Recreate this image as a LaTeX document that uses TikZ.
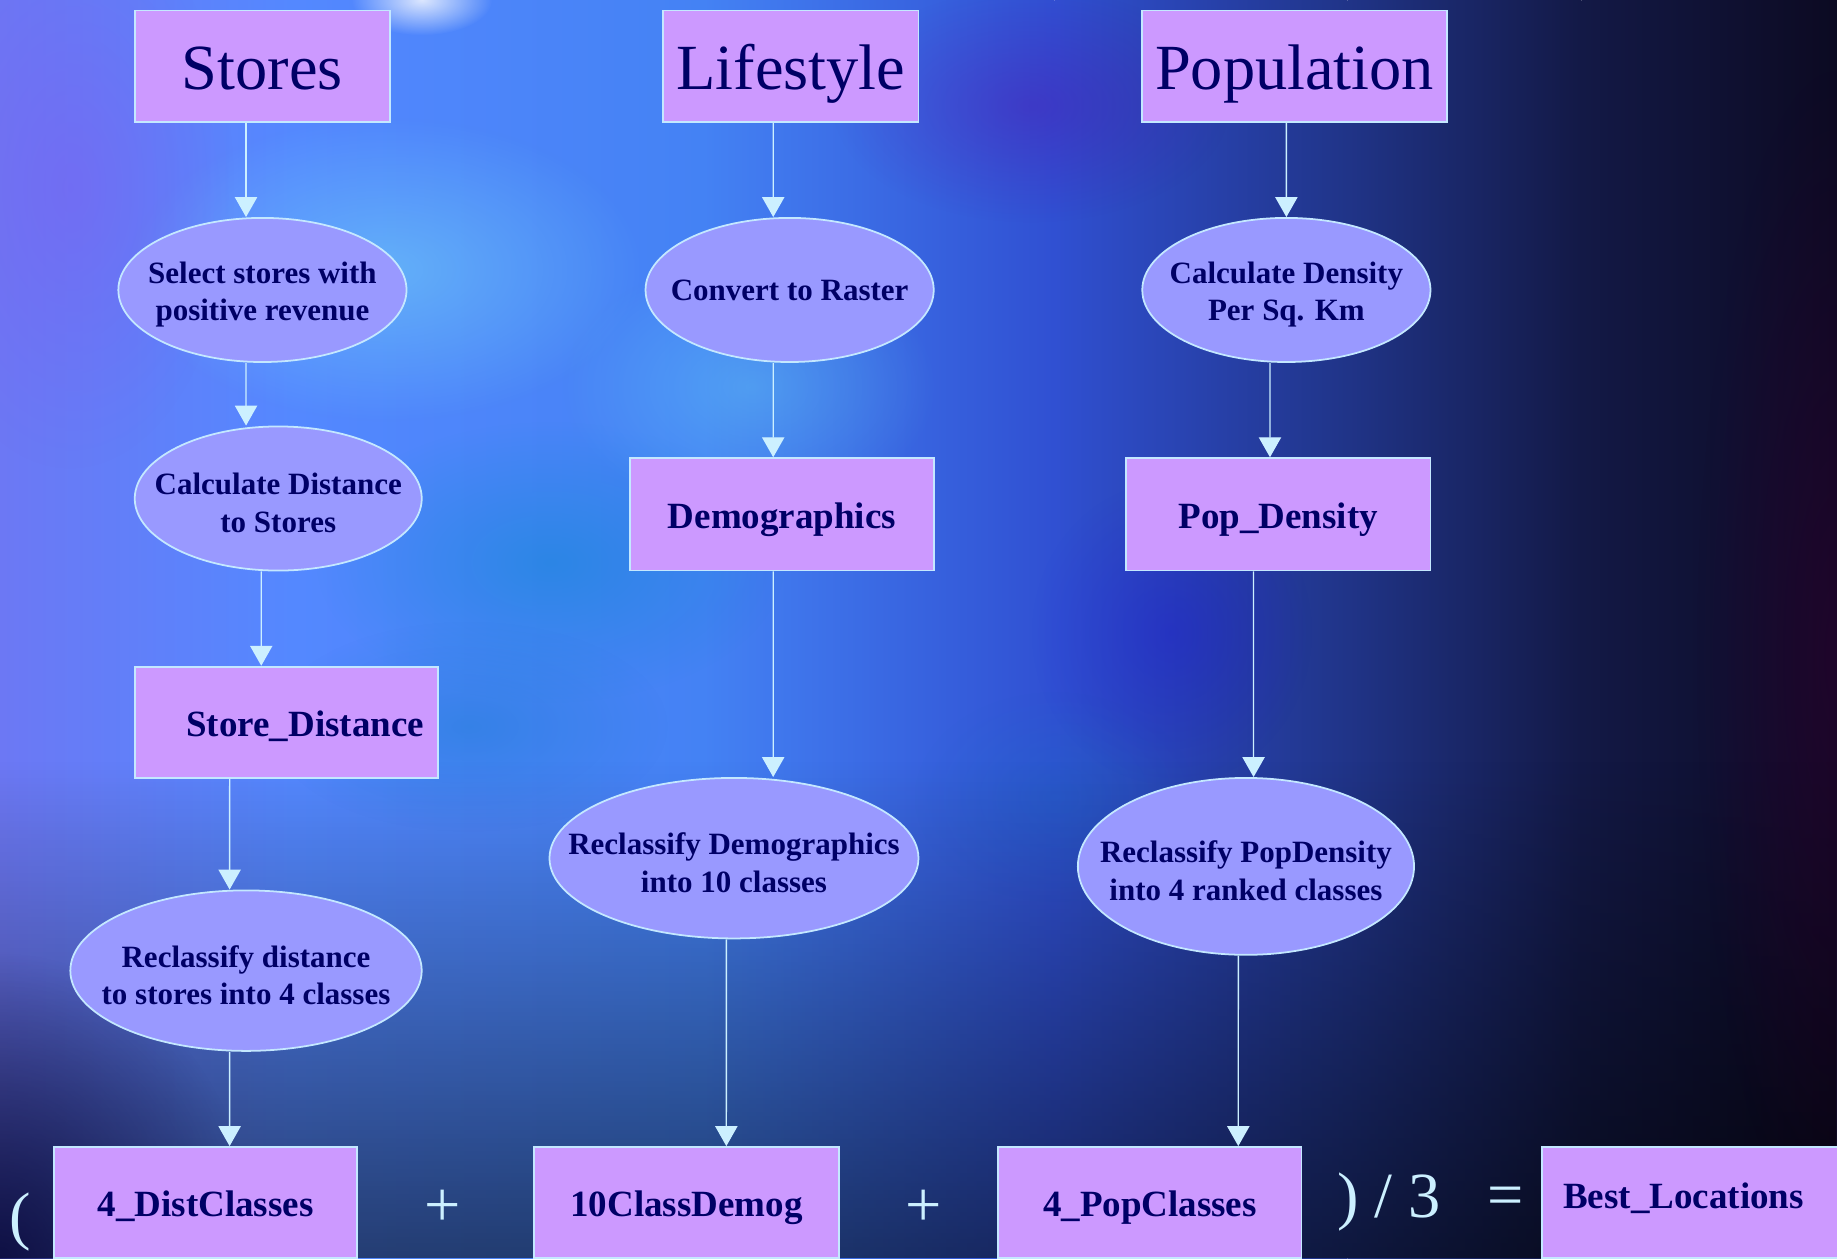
\documentclass[tikz,border=0pt]{standalone}
\usepackage{fontspec}
\setmainfont{Liberation Serif}
\usetikzlibrary{arrows.meta,fadings,shapes.geometric}
\definecolor{boxfill}{HTML}{CC99FF}
\definecolor{ellfill}{HTML}{9999FF}
\definecolor{edge}{HTML}{C4E8FF}
\definecolor{ink}{HTML}{000066}
\definecolor{arrowc}{HTML}{CCF0FF}
\definecolor{bgA}{HTML}{6C78F4}
\definecolor{bgB}{HTML}{5488FF}
\definecolor{bgC}{HTML}{4482F4}
\definecolor{bgD}{HTML}{3050D2}
\definecolor{bgE}{HTML}{203488}
\definecolor{bgF}{HTML}{131946}
\definecolor{bgG}{HTML}{0C0A22}
\definecolor{violetglow}{HTML}{7A62F0}
\tikzfading[name=glowfade, inner color=transparent!0, outer color=transparent!100]
\tikzfading[name=downfade, top color=transparent!100, bottom color=transparent!0]
\tikzset{
  box/.style={draw=edge, line width=0.88pt, fill=boxfill, text=ink, inner sep=0pt},
  big/.style={box, font=\fontsize{32.2pt}{38pt}\selectfont, text height=23.8pt, text depth=0pt},
  lbl/.style={box, font=\bfseries\fontsize{18.5pt}{22pt}\selectfont, text height=14.1pt, text depth=0pt},
  ell/.style={ellipse, draw=edge, line width=0.88pt, fill=ellfill, inner sep=0pt},
  etxt/.style={text=ink, align=center, font=\bfseries\fontsize{15.5pt}{18.75pt}\selectfont, inner sep=0pt},
  etxtb/.style={etxt, yshift=-2.3pt},
  arr/.style={draw=arrowc, line width=0.65pt, -{Triangle[length=9.96pt, width=11.13pt, fill=arrowc]}},
  op/.style={text=arrowc, font=\fontsize{32.2pt}{38pt}\selectfont, inner sep=0pt, anchor=base},
  glow/.style={path fading=glowfade}
}
\begin{document}
\begin{tikzpicture}[x=0.5858pt, y=-0.5858pt]
\useasboundingbox (0,0) rectangle (1568,1074);
% background
\shade[left color=bgA, right color=bgB] (0,0) rectangle (250,1074);
\shade[left color=bgB, right color=bgC] (250,0) rectangle (600,1074);
\shade[left color=bgC, right color=bgD] (600,0) rectangle (900,1074);
\shade[left color=bgD, right color=bgE] (900,0) rectangle (1150,1074);
\shade[left color=bgE, right color=bgF] (1150,0) rectangle (1350,1074);
\shade[left color=bgF, right color=bgG] (1350,0) rectangle (1568,1074);
\fill[glow, color=cyan!55!white, opacity=0.55] (330,230) ellipse (220 and 130);
\fill[glow, color=cyan!70!blue, opacity=0.5] (470,480) ellipse (200 and 120);
\fill[glow, color=cyan!60!white, opacity=0.4] (640,330) ellipse (160 and 110);
\fill[glow, color=cyan!60!blue, opacity=0.4] (400,620) ellipse (170 and 90);
\fill[glow, color=cyan!50!blue, opacity=0.3] (900,680) ellipse (120 and 90);
\fill[glow, color=white, opacity=0.8] (360,0) ellipse (60 and 30);
\fill[glow, color=violetglow, opacity=0.55] (60,160) ellipse (140 and 240);
\fill[glow, color=violet!70!blue, opacity=0.3] (880,90) ellipse (170 and 100);
\fill[glow, color=blue!80!violet, opacity=0.25] (1000,540) ellipse (120 and 130);
\fill[black, path fading=downfade, opacity=0.55] (0,650) rectangle (1568,1074);
\fill[glow, color=black!80!blue, opacity=0.7] (0,1074) ellipse (220 and 260);
\fill[glow, color=black!60!violet, opacity=0.5] (1568,560) ellipse (120 and 500);
% boxes
\node[big, minimum width=127.7pt, minimum height=55.65pt] (stores) at (224,56.5) {Stores};
\node[big, minimum width=127.7pt, minimum height=55.65pt] (lifestyle) at (675,56.5) {Lifestyle};
\node[big, minimum width=152.3pt, minimum height=55.65pt] (population) at (1105,56.5) {Population};
\node[lbl, minimum width=151.7pt, minimum height=55.65pt] (sdist) at (244.5,616.5) {\hspace*{18.75pt}Store\_Distance};
\node[lbl, minimum width=151.7pt, minimum height=56.2pt] (demog) at (667.5,439) {Demographics};
\node[lbl, minimum width=152.3pt, minimum height=56.2pt] (popdens) at (1091,439) {Pop\_Density};
\node[lbl, minimum width=151.7pt, minimum height=55.65pt] (distcls) at (175.5,1026.5) {4\_DistClasses};
\node[lbl, minimum width=152.3pt, minimum height=55.65pt] (demogcls) at (586,1026.5) {10ClassDemog};
\node[lbl, minimum width=151.7pt, minimum height=55.65pt] (popcls) at (981.5,1026.5) {4\_PopClasses};
\node[lbl, minimum width=151.7pt, minimum height=55.65pt] (best) at (1445.5,1026.5) {\raisebox{4.1pt}{Best\_Locations}\hspace*{10pt}};
% ellipses
\node[ell, minimum width=144.1pt, minimum height=72.05pt] (sel) at (224,247.5) {};
\node[etxtb] (selt) at (sel) {Select stores with\\positive revenue};
\node[ell, minimum width=143.5pt, minimum height=72.05pt] (calc) at (237.5,425.5) {};
\node[etxtb] (calct) at (calc) {Calculate Distance\\to Stores};
\node[ell, minimum width=175.7pt, minimum height=80.25pt] (recl) at (210,828.5) {};
\node[etxtb] (reclt) at (recl) {Reclassify distance\\to stores into 4 classes};
\node[ell, minimum width=144.1pt, minimum height=72.05pt] (conv) at (674,247.5) {};
\node[etxt] (convt) at (conv) {Convert to Raster};
\node[ell, minimum width=184.5pt, minimum height=80.25pt] (recdem) at (626.5,732.5) {};
\node[etxtb] (recdemt) at (recdem) {Reclassify Demographics\\into 10 classes};
\node[ell, minimum width=144.1pt, minimum height=72.05pt] (dens) at (1098,247.5) {};
\node[etxtb] (denst) at (dens) {Calculate Density\\Per Sq. Km};
\node[ell, minimum width=168.1pt, minimum height=88.45pt] (recpop) at (1063.5,739.5) {};
\node[etxtb] (recpopt) at (recpop) {Reclassify PopDensity\\into 4 ranked classes};
% arrows
\draw[arr] ([xshift=-8.2pt]stores.south) -- ([xshift=-8.2pt]sel.north);
\draw[arr] ([xshift=-8.2pt]sel.south) -- ([xshift=-16.1pt]calc.north);
\draw[arr] ([xshift=-8.5pt]calc.south) -- ([xshift=-12.6pt]sdist.north);
\draw[arr] ([xshift=-28.4pt]sdist.south) -- ([xshift=-8.2pt]recl.north);
\draw[arr] ([xshift=-8.2pt]recl.south) -- ([xshift=12pt]distcls.north);
\draw[arr] ([xshift=-8.8pt]lifestyle.south) -- ([xshift=-8.2pt]conv.north);
\draw[arr] ([xshift=-8.2pt]conv.south) -- ([xshift=-4.4pt]demog.north);
\draw[arr] ([xshift=-4.4pt]demog.south) -- ([xshift=19.6pt]recdem.north);
\draw[arr] ([xshift=-3.8pt]recdem.south) -- ([xshift=19.9pt]demogcls.north);
\draw[arr] ([xshift=-4.1pt]population.south) -- (dens.north);
\draw[arr] ([xshift=-8.2pt]dens.south) -- ([xshift=-4.1pt]popdens.north);
\draw[arr] ([xshift=-12.3pt]popdens.south) -- ([xshift=3.8pt]recpop.north);
\draw[arr] ([xshift=-3.8pt]recpop.south) -- ([xshift=44.2pt]popcls.north);
% operators
\node[op] (lpar) at (17.5,1056) {(};
\node[op] (plusA) at (378,1047) {+};
\node[op] (plusB) at (788,1047) {+};
\node[op, anchor=base west] (div) at (1141,1039) {) / 3};
\node[op] (eq) at (1285,1038.5) {=};
\end{tikzpicture}
\end{document}
